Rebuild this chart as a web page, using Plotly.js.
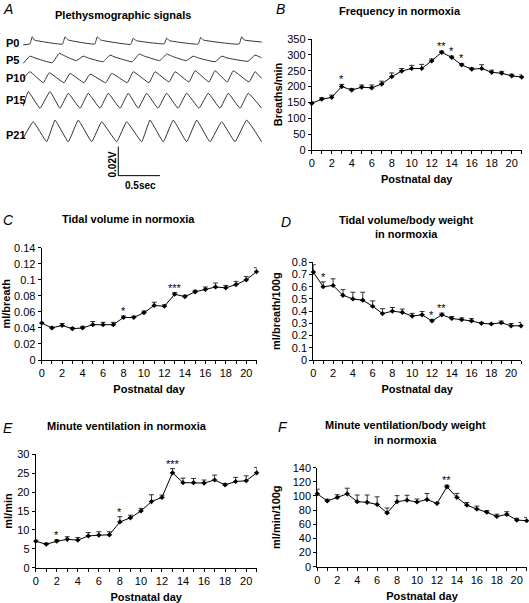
<!DOCTYPE html>
<html>
<head>
<meta charset="utf-8">
<script src="https://cdn.plot.ly/plotly-3.0.1.min.js"></script>
<style>
html,body{margin:0;padding:0;background:#fff;}
#chart{width:529px;height:603px;}
</style>
</head>
<body>
<div id="chart"></div>
<script>
// ---------------- DATA ----------------
const days = [0,1,2,3,4,5,6,7,8,9,10,11,12,13,14,15,16,17,18,19,20,21];

// B: Frequency (breaths/min)
const freqMean = [147,160,166,200,189,198,196,208,231,249,257,257,281,308,292,268,255,257,245,242,234,230];
const freqSem  = [5,5,7,7,5,7,9,9,12,8,10,13,6,4,4,5,4,12,7,6,5,7];
const freqStarDays = [3,13,14,15];
const freqStarText = ['*','**','*','*'];

// C: Tidal volume (ml/breath)
const tvMean = [0.046,0.040,0.043,0.039,0.040,0.044,0.044,0.044,0.053,0.053,0.059,0.068,0.067,0.082,0.079,0.085,0.088,0.091,0.090,0.094,0.100,0.110];
const tvSem  = [0.001,0.001,0.0025,0.0017,0.002,0.004,0.003,0.003,0.002,0.0017,0.002,0.004,0.0017,0.002,0.0017,0.002,0.003,0.005,0.003,0.004,0.004,0.005];
const tvStarDays = [8,13];
const tvStarText = ['*','***'];

// D: Tidal volume / body weight (ml/breath/100g)
const tvbwMean = [0.72,0.60,0.61,0.53,0.50,0.49,0.44,0.38,0.40,0.39,0.36,0.37,0.32,0.37,0.34,0.33,0.32,0.30,0.295,0.305,0.28,0.28];
const tvbwSem  = [0.06,0.04,0.055,0.046,0.055,0.065,0.044,0.04,0.03,0.027,0.022,0.027,0.008,0.014,0.016,0.014,0.019,0.008,0.005,0.014,0.019,0.027];
const tvbwStarDays = [1,12,13];
const tvbwStarText = ['*','*','**'];

// E: Minute ventilation (ml/min)
const mvMean = [7.0,6.2,7.0,7.5,7.3,8.4,8.6,8.7,12.1,13.2,15.0,17.5,18.6,25.1,22.5,22.5,22.4,23.2,21.9,22.8,23.0,25.1];
const mvSem  = [0.3,0.3,0.4,0.7,0.7,0.9,0.9,0.8,1.4,0.7,0.7,1.8,0.6,1.1,1.2,1.1,0.8,1.3,0.4,1.1,1.3,1.4];
const mvStarDays = [2,8,13];
const mvStarText = ['*','*','***'];

// F: Minute ventilation / body weight (ml/min/100g)
const mvbwMean = [103,93,98,103,92,91,88,76,92,94,91.5,95,89.5,113,98,87,81.5,77,71,74,66,65];
const mvbwSem  = [6.6,2.4,3.8,8,9.4,10.4,10.8,7,8.5,7,4.2,8.5,1.4,2.4,5.7,3.8,4.2,2.4,3.3,3.8,2.4,4.7];
const mvbwStarDays = [13];
const mvbwStarText = ['**'];

// A: plethysmographic signals, vertices (time s, signal mV)
const sigNames = ['P0','P5','P10','P15','P21'];
const tP0 = [0.007,0.085,0.115,0.139,0.478,0.508,0.547,0.865,0.895,0.936,1.297,1.327,1.36,1.698,1.728,1.759,2.106,2.136,2.167,2.598,2.628,2.659,2.868];
const vP0 = [-0.5,0,5.0,2.8,0,5.0,2.8,0,5.0,2.8,-0.2,4.1,2.4,0.2,4.1,2.4,0,4.6,2.8,0,5.0,2.8,1.4];
const tP5 = [0.007,0.088,0.148,0.355,0.439,0.499,0.643,0.727,0.787,0.964,1.048,1.108,1.315,1.399,1.459,1.644,1.728,1.788,1.963,2.047,2.107,2.308,2.392,2.452,2.704,2.788,2.848,2.868];
const vP5 = [-0.9,4.1,2.8,-0.5,6.0,4.4,0.9,4.1,2.8,0.2,4.8,3.4,0.2,5.5,4.1,1.0,5.5,4.1,0.9,4.1,2.8,0.2,4.1,2.8,0.5,4.8,3.4,2.8];
const tP10 = [0.007,0.088,0.247,0.319,0.496,0.568,0.736,0.808,0.996,1.068,1.255,1.327,1.516,1.588,1.756,1.828,1.996,2.068,2.236,2.308,2.455,2.527,2.716,2.788,2.868];
const vP10 = [3.2,7.6,0,6.9,0,6.5,0,6.0,0,6.5,0,7.6,0,7.6,0.5,7.6,0.5,8.3,0.5,8.3,0.5,8.3,0.5,7.6,3.0];
const tP15 = [0.007,0.067,0.208,0.328,0.448,0.547,0.688,0.787,0.928,1.027,1.168,1.267,1.387,1.488,1.624,1.728,1.864,1.968,2.116,2.227,2.368,2.467,2.608,2.707,2.868];
const vP15 = [1.6,11.5,0,11.5,0,10.4,0,10.4,0,10.4,0,10.4,0,10.4,0,10.4,0,10.4,0,10.4,0,10.4,0,10.4,0];
const tP21 = [0.007,0.127,0.288,0.388,0.547,0.667,0.828,0.948,1.128,1.248,1.428,1.528,1.687,1.807,1.968,2.088,2.248,2.388,2.548,2.688,2.868];
const vP21 = [2.5,13.8,0,14.9,0,14.9,0,13.8,0,13.8,0,14.9,0,14.9,0,14.9,0,13.8,0,14.9,0];

// ---------------- STYLE / LAYOUT CONFIG ----------------
const FONT = 'Liberation Sans, Arial, Helvetica, sans-serif';
const W = 529, H = 603;
const px = x => x / W;
const py = y => 1 - y / H;
const sigT = [tP0,tP5,tP10,tP15,tP21];
const sigV = [vP0,vP5,vP10,vP15,vP21];
const sigOffset = [-30.4,-42.8,-57.1,-74.7,-97.8];   // vertical stacking (mV)
const sigLabelY = [42.7,60,78.3,100,135];            // label positions (px)

const traces = [];
for (let i = 0; i < 5; i++) {
  traces.push({
    x: sigT[i], y: sigV[i].map(v => v + sigOffset[i]),
    xaxis:'x', yaxis:'y', mode:'lines', type:'scatter',
    line:{color:'#333', width:1, shape:'spline', smoothing:0.3},
    hoverinfo:'skip', cliponaxis:false
  });
}

function dataTrace(mean, sem, ax) {
  return {
    x: days, y: mean, xaxis:'x'+ax, yaxis:'y'+ax, type:'scatter', mode:'lines+markers',
    line:{color:'#000', width:1},
    marker:{symbol:'diamond', size:4, color:'#000'},
    error_y:{type:'data', symmetric:false, array:sem, arrayminus:sem.map(()=>0),
             color:'#000', thickness:0.8, width:2.5},
    cliponaxis:false
  };
}
traces.push(dataTrace(freqMean, freqSem, 2));
traces.push(dataTrace(tvMean, tvSem, 3));
traces.push(dataTrace(tvbwMean, tvbwSem, 4));
traces.push(dataTrace(mvMean, mvSem, 5));
traces.push(dataTrace(mvbwMean, mvbwSem, 6));

function xAx(x0, x1, y0, y1, anchor) {
  return {
    domain:[px(x0), px(x1)], anchor:anchor, range:[0,21], tick0:0, dtick:2,
    ticks:'outside', ticklen:3, tickwidth:1, tickcolor:'#000',
    minor:{dtick:1, tick0:0, ticks:'outside', ticklen:3, tickwidth:1, tickcolor:'#000', showgrid:false},
    showline:true, linecolor:'#000', linewidth:1, showgrid:false, zeroline:false,
    tickfont:{family:FONT, size:11, color:'#000'},
    title:{text:'<b>Postnatal day</b>', font:{family:FONT, size:11, color:'#000'}, standoff:7}
  };
}
function yAx(y0, y1, anchor, rmax, dt, title, standoff) {
  return {
    domain:[py(y1), py(y0)], anchor:anchor, range:[0, rmax], tick0:0, dtick:dt,
    ticks:'outside', ticklen:3, tickwidth:1, tickcolor:'#000',
    showline:true, linecolor:'#000', linewidth:1, showgrid:false, zeroline:false,
    tickfont:{family:FONT, size:11, color:'#000'},
    title:{text:'<b>'+title+'</b>', font:{family:FONT, size:11, color:'#000'}, standoff:standoff}
  };
}

const layout = {
  width:W, height:H, margin:{l:0,r:0,t:0,b:0}, showlegend:false,
  paper_bgcolor:'#fff', plot_bgcolor:'rgba(0,0,0,0)',
  font:{family:FONT, size:11, color:'#000'},
  // panel A (signals)
  xaxis:{domain:[0, px(265)], anchor:'y', range:[-0.272, 2.908], visible:false, fixedrange:true},
  yaxis:{domain:[py(190), py(30)], anchor:'x', range:[-131.1, -20.7], visible:false, fixedrange:true},
  // panel B
  xaxis2: xAx(311.7, 521.7, 39, 150, 'y2'),
  yaxis2: yAx(39, 150, 'x2', 350.01, 50, 'Breaths/min', 2),
  // panel C
  xaxis3: xAx(41.7, 256.5, 247.7, 360, 'y3'),
  yaxis3: yAx(247.7, 360, 'x3', 0.14001, 0.02, 'ml/breath', 1),
  // panel D
  xaxis4: xAx(313.3, 521, 262.3, 360, 'y4'),
  yaxis4: yAx(262.3, 360, 'x4', 0.8001, 0.1, 'ml/breath/100g', 8),
  // panel E
  xaxis5: xAx(35.7, 256.7, 454.3, 567.7, 'y5'),
  yaxis5: yAx(454.3, 567.7, 'x5', 30.001, 5, 'ml/min', 2),
  // panel F
  xaxis6: xAx(317.3, 526.7, 467.7, 566.7, 'y6'),
  yaxis6: yAx(467.7, 566.7, 'x6', 140.01, 20, 'ml/min/100g', 9),
  shapes:[
    // scale bar in panel A (0.02 V, 0.5 s)
    {type:'line', xref:'x', yref:'y', x0:1.147, x1:1.147, y0:-101.2, y1:-121.2, line:{color:'#000', width:1}},
    {type:'line', xref:'x', yref:'y', x0:1.147, x1:1.647, y0:-121.2, y1:-121.2, line:{color:'#000', width:1}}
  ],
  annotations:[]
};

const ann = layout.annotations;
function txt(text, x, y, opts) {
  ann.push(Object.assign({text:text, x:px(x), y:py(y), xref:'paper', yref:'paper',
    showarrow:false, xanchor:'center', yanchor:'middle',
    font:{family:FONT, size:11, color:'#000'}}, opts||{}));
}
// panel letters
const letters = [['A',2,0],['B',275,0],['C',2,211],['D',280,213],['E',2,419],['F',277,418]];
letters.forEach(l => txt('<i>'+l[0]+'</i>', l[1], l[2],
  {xanchor:'left', yanchor:'top', borderpad:0, font:{family:FONT, size:14, color:'#000'}}));
// panel titles
txt('<b>Plethysmographic signals</b>', 123, 15);
txt('<b>Frequency in normoxia</b>', 400, 11);
txt('<b>Tidal volume in normoxia</b>', 128.3, 219.3);
txt('<b>Tidal volume/body weight</b>', 406.7, 220);
txt('<b>in normoxia</b>', 406.7, 234.3);
txt('<b>Minute ventilation in normoxia</b>', 126.7, 426);
txt('<b>Minute ventilation/body weight</b>', 405, 425);
txt('<b>in normoxia</b>', 405, 440);
// signal labels
sigNames.forEach((n,i) => txt('<b>'+n+'</b>', 4, sigLabelY[i], {xanchor:'left'}));
// scale bar labels
txt('<b>0.02V</b>', 111.5, 164, {textangle:-90, font:{family:FONT, size:10, color:'#000'}});
txt('<b>0.5sec</b>', 140, 185, {font:{family:FONT, size:10, color:'#000'}});

// significance stars
function stars(dayList, textList, mean, sem, ax) {
  dayList.forEach((d,i) => {
    ann.push({text:textList[i], x:d, y:mean[d]+sem[d], xref:'x'+ax, yref:'y'+ax,
      showarrow:false, xanchor:'center', yanchor:'bottom', yshift:-3,
      font:{family:FONT, size:11, color:'#000'}});
  });
}
stars(freqStarDays, freqStarText, freqMean, freqSem, 2);
stars(tvStarDays, tvStarText, tvMean, tvSem, 3);
stars(tvbwStarDays, tvbwStarText, tvbwMean, tvbwSem, 4);
stars(mvStarDays, mvStarText, mvMean, mvSem, 5);
stars(mvbwStarDays, mvbwStarText, mvbwMean, mvbwSem, 6);

Plotly.newPlot('chart', traces, layout, {staticPlot:true, displayModeBar:false});
</script>
</body>
</html>
